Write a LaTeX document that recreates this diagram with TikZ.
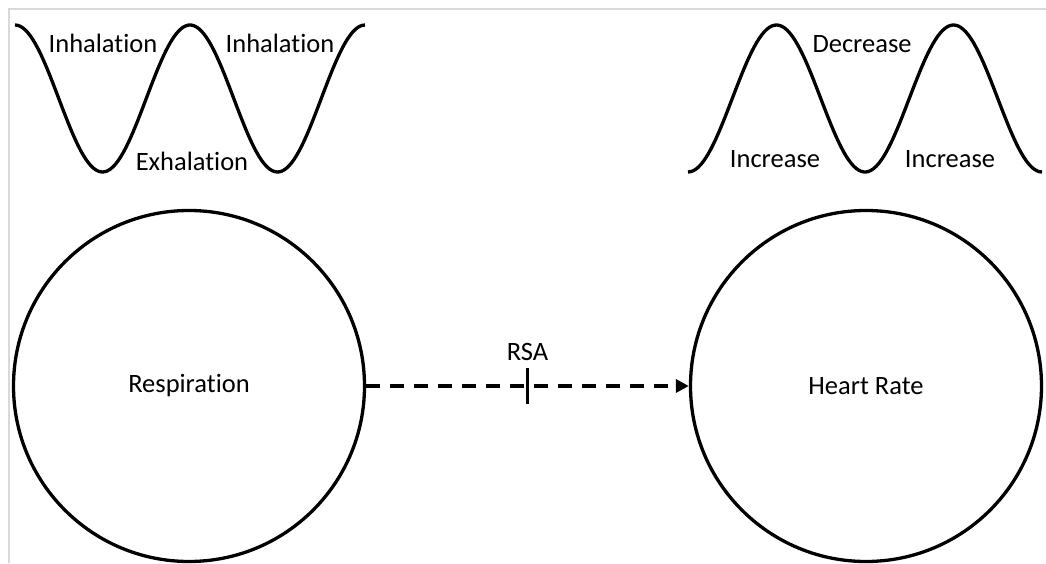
\documentclass[tikz,border=0pt]{standalone}
\usepackage{fontspec}
\setmainfont{Carlito}[Ligatures=NoCommon]
\usetikzlibrary{arrows.meta, positioning}

\begin{document}
\begin{tikzpicture}[x=1pt, y=1pt,
  state/.style={circle, draw=black, line width=3.3pt, minimum size=351pt, inner sep=0pt,
                font=\fontsize{26.5}{32}\selectfont},
  wave/.style={line width=3.3pt, line join=round},
  lbl/.style={font=\fontsize{26.5}{32}\selectfont, inner sep=0pt, anchor=base},
  link/.style={-{Triangle[length=13pt, width=13pt]}, line width=3.3pt,
               dash pattern=on 14pt off 10pt}
]
  \useasboundingbox (0,0) rectangle (1046,563);

  % Frame (light grey)
  \draw[black!15, line width=1.5pt] (9,0) -- (9,554) -- (1046,554);

  % Breathing cycle
  \draw[wave] plot[domain=15:365, samples=140]
    (\x, {464.5 + 73.5*cos(2.0571*(\x-15))});
  \node[lbl] (inh1) at (103, 510) {Inhalation};
  \node[lbl] (inh2) at (280, 510) {Inhalation};
  \node[lbl] (exh) at (192, 392) {Exhalation};

  % Heart rate cycle
  \draw[wave] plot[domain=688:1042, samples=140]
    (\x, {464.5 - 73.5*cos(2.0339*(\x-688))});
  \node[lbl] (dec) at (862, 510) {Decrease};
  \node[lbl] (inc1) at (775, 395) {Increase};
  \node[lbl] (inc2) at (950, 395) {Increase};

  % The two systems
  \node[state] (resp) at (189, 177) {Respiration};
  \node[state] (heart) at (866, 177) {Heart Rate};

  % Coupling
  \draw[link] (resp) -- coordinate[midway] (mid) (heart);
  \draw[line width=3.3pt] ([yshift=18pt]mid) -- ([yshift=-18pt]mid);
  \node[lbl, anchor=south, above=25pt of mid] (rsa) {RSA};
\end{tikzpicture}
\end{document}
